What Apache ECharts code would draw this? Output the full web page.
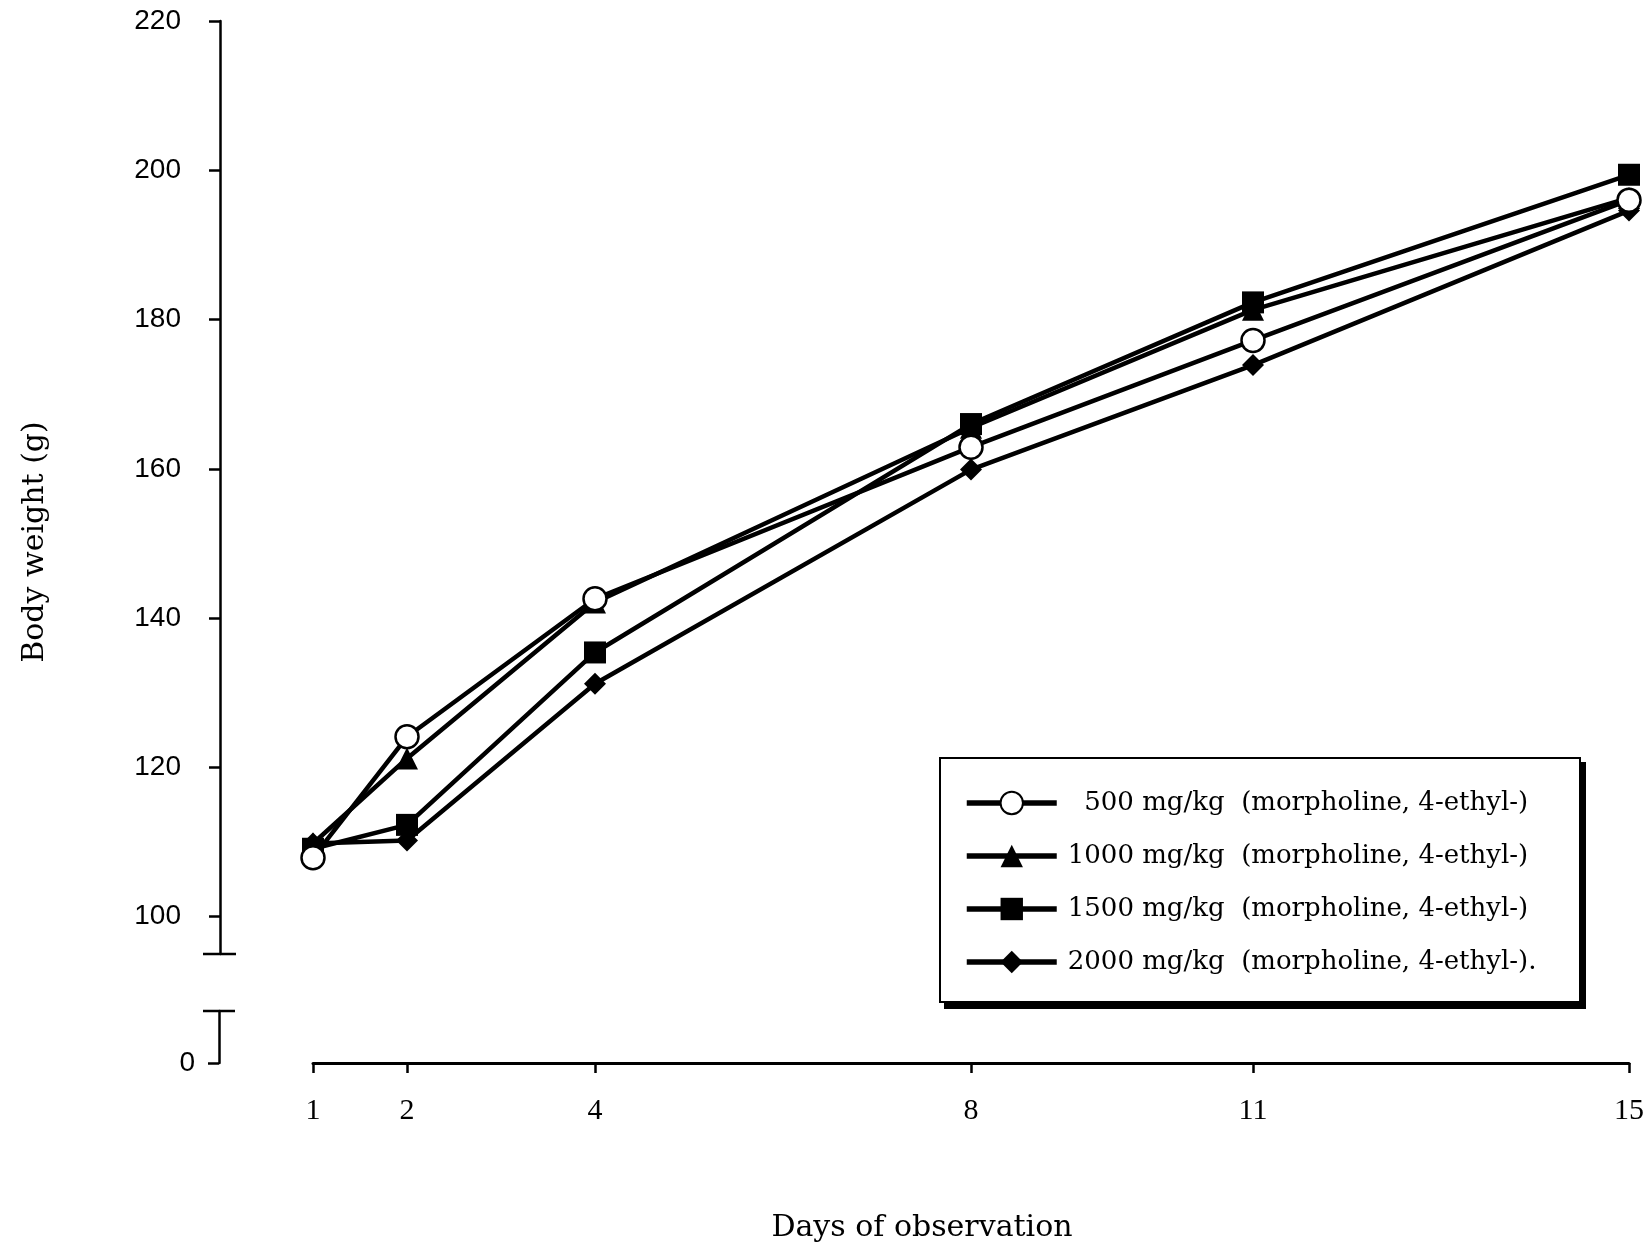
<!DOCTYPE html>
<html>
<head>
<meta charset="utf-8">
<script src="https://cdn.jsdelivr.net/npm/echarts@6.0.0/dist/echarts.min.js"></script>
<style>
html,body{margin:0;padding:0;background:#fff;}
#chart{width:1649px;height:1251px;}
</style>
</head>
<body>
<div id="chart"></div>
<script>
// ---- data ----
const days = [1, 2, 4, 8, 11, 15];
const yTickValues = [100, 120, 140, 160, 180, 200, 220];
const lowTickValues = [0];
const seriesNames = [
  '500 mg/kg  (morpholine, 4-ethyl-)',
  '1000 mg/kg  (morpholine, 4-ethyl-)',
  '1500 mg/kg  (morpholine, 4-ethyl-)',
  '2000 mg/kg  (morpholine, 4-ethyl-).'
];
const w500  = [107.9, 124.1, 142.6, 162.9, 177.2, 196.0];
const w1000 = [109.8, 121.2, 142.1, 165.5, 181.3, 196.3];
const w1500 = [109.1, 112.3, 135.4, 166.0, 182.3, 199.4];
const w2000 = [109.8, 110.2, 131.2, 159.9, 173.9, 194.6];
const xTitle = 'Days of observation';
const yTitle = 'Body weight (g)';

const pairs = v => days.map((d, i) => [d, v[i]]);
const serif = 'DejaVu Serif';
const lineW = 4.5;

const chart = echarts.init(document.getElementById('chart'), null, {renderer: 'canvas'});

function mkSeries(name, vals, symbol, size, fill, z) {
  return {
    name: name, type: 'line', xAxisIndex: 0, yAxisIndex: 0,
    data: pairs(vals), symbol: symbol, symbolSize: size,
    showAllSymbol: true, animation: false, z: z,
    lineStyle: {color: '#000', width: lineW},
    itemStyle: {color: fill, borderColor: '#000', borderWidth: fill === '#fff' ? 2.5 : 0}
  };
}

const option = {
  backgroundColor: '#fff',
  animation: false,
  grid: [
    {left: 313, right: 20, top: 21, bottom: 297, containLabel: false},
    {left: 313, right: 20, top: 1011, bottom: 188, containLabel: false}
  ],
  xAxis: [
    {gridIndex: 0, type: 'value', min: 1, max: 15, show: false},
    {gridIndex: 1, type: 'value', min: 1, max: 15,
     axisLine: {show: true, lineStyle: {color: '#000', width: 3}},
     axisTick: {show: true, customValues: days, length: 10, lineStyle: {color: '#000', width: 2.5}},
     axisLabel: {show: true, customValues: days, margin: 33, color: '#000',
                 fontFamily: 'Liberation Serif', fontSize: 30},
     splitLine: {show: false}}
  ],
  yAxis: [
    {gridIndex: 0, type: 'value', min: 95, max: 220, offset: 93,
     axisLine: {show: true, lineStyle: {color: '#000', width: 2.5}},
     axisTick: {show: true, customValues: yTickValues, length: 11, lineStyle: {color: '#000', width: 2.5}},
     axisLabel: {show: true, customValues: yTickValues, margin: 39, color: '#000',
                 fontFamily: 'Liberation Sans', fontSize: 28},
     splitLine: {show: false}},
    {gridIndex: 1, type: 'value', min: 0, max: 7, offset: 94,
     axisLine: {show: true, lineStyle: {color: '#000', width: 2.5}},
     axisTick: {show: true, customValues: lowTickValues, length: 11, lineStyle: {color: '#000', width: 2.5}},
     axisLabel: {show: true, customValues: lowTickValues, margin: 24, color: '#000',
                 fontFamily: 'Liberation Sans', fontSize: 28},
     splitLine: {show: false}}
  ],
  legend: {
    show: true, orient: 'vertical', left: 939, top: 757,
    data: seriesNames,
    itemWidth: 90, itemHeight: 28, itemGap: 27,
    padding: [33, 40, 33, 25],
    backgroundColor: 'transparent', borderWidth: 0,
    lineStyle: {color: '#000', width: 5.5},
    textStyle: {color: '#000', fontFamily: serif, fontSize: 26, padding: [0, 0, 0, 6]},
    formatter: function (n) { return n.indexOf('500 ') === 0 ? '  ' + n : n; },
    selectedMode: false
  },
  series: [
    mkSeries(seriesNames[3], w2000, 'diamond', 22, '#000', 2),
    mkSeries(seriesNames[1], w1000, 'triangle', 22, '#000', 3),
    mkSeries(seriesNames[2], w1500, 'rect', 22, '#000', 4),
    mkSeries(seriesNames[0], w500, 'circle', 23, '#fff', 5)
  ]
};
chart.setOption(option);

// axis break bars, legend frame and titles
const axisX = chart.convertToPixel({xAxisIndex: 0}, 1) - 93;
const yBreakTop = chart.convertToPixel({yAxisIndex: 0}, 95);
const yBreakLow = chart.convertToPixel({yAxisIndex: 1}, 7);
chart.setOption({
  graphic: [
    {type: 'line', shape: {x1: axisX - 17, y1: yBreakTop, x2: axisX + 16, y2: yBreakTop},
     style: {stroke: '#000', lineWidth: 2.5}},
    {type: 'line', shape: {x1: axisX - 17, y1: yBreakLow, x2: axisX + 15, y2: yBreakLow},
     style: {stroke: '#000', lineWidth: 2.5}},
    {type: 'rect', z: 0, shape: {x: 944, y: 762, width: 642, height: 247},
     style: {fill: '#000'}},
    {type: 'rect', z: 1, shape: {x: 940, y: 758, width: 640, height: 244},
     style: {fill: '#fff', stroke: '#000', lineWidth: 2}},
    {type: 'text', x: 922, y: 1228,
     style: {text: xTitle, fill: '#000', font: '30px "DejaVu Serif"', textAlign: 'center', textVerticalAlign: 'middle'}},
    {type: 'text', x: 35, y: 542, rotation: Math.PI / 2,
     style: {text: yTitle, fill: '#000', font: '30px "DejaVu Serif"', textAlign: 'center', textVerticalAlign: 'middle'}}
  ]
});
</script>
</body>
</html>
